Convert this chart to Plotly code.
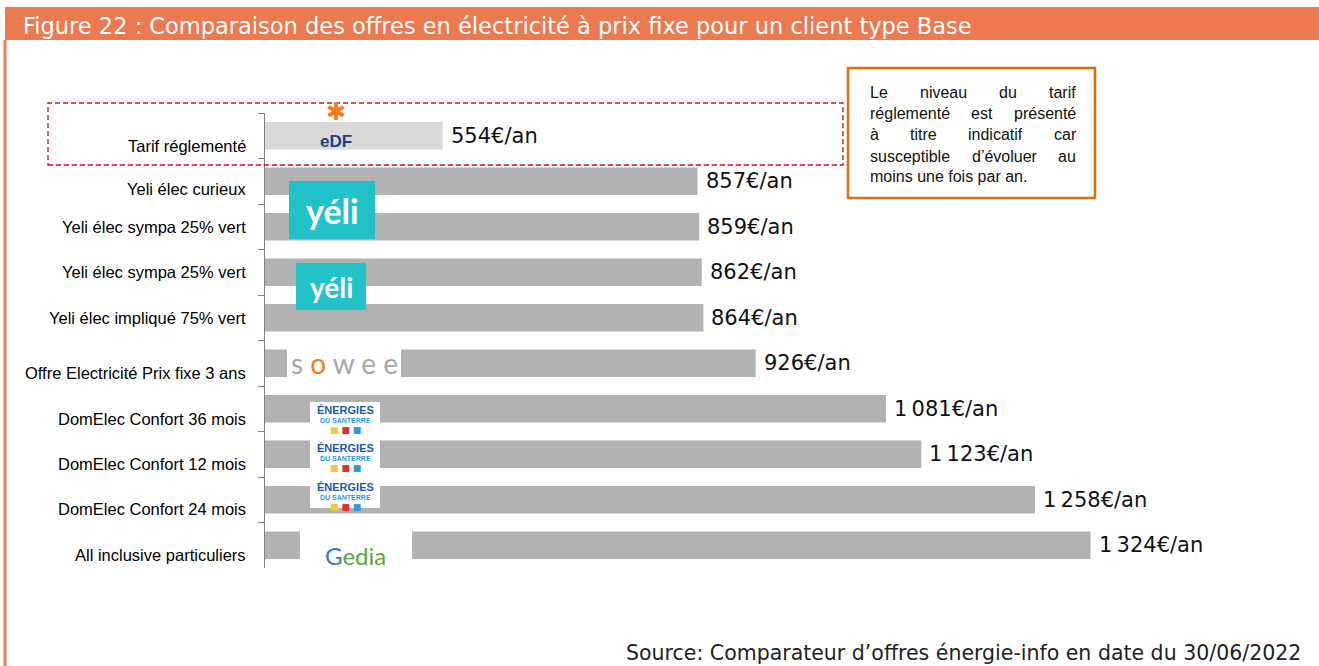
import plotly.graph_objects as go

W, H = 1319, 666

categories = [
    "Tarif réglementé",
    "Yeli élec curieux",
    "Yeli élec sympa 25% vert",
    "Yeli élec sympa 25% vert ",
    "Yeli élec impliqué 75% vert",
    "Offre Electricité Prix fixe 3 ans",
    "DomElec Confort 36 mois",
    "DomElec Confort 12 mois",
    "DomElec Confort 24 mois",
    "All inclusive particuliers",
]
values = [554, 857, 859, 862, 864, 926, 1081, 1123, 1258, 1324]
bar_colors = ["#d9d9d9"] + ["#b2b2b2"] * 9
# vertical nudge of each category label (pixels, downward) as in the source layout
label_nudge = [10, 8, 0, 0, 0, 10, 10, 10, 9, 10]

title_text = "Figure 22 : Comparaison des offres en électricité à prix fixe pour un client type Base"
source_text = "Source: Comparateur d\u2019offres énergie-info en date du 30/06/2022"
note_lines = [
    ["Le", "niveau", "du", "tarif"],
    ["réglementé", "est", "présenté"],
    ["à", "titre", "indicatif", "car"],
    ["susceptible", "d\u2019évoluer", "au"],
    ["moins une fois par an."],
]


def fmt(v):
    s = f"{v:,}".replace(",", "\u2009")
    return s + "€/an"


def px(x):
    return x / W


def py(y):
    return 1 - y / H


ORANGE = "#ec7950"

fig = go.Figure()
fig.add_trace(go.Bar(
    x=values, y=categories, orientation="h",
    marker=dict(color=bar_colors, line=dict(width=0)),
    width=0.6, hoverinfo="skip",
))

annotations = []
for c, v in zip(categories, values):
    annotations.append(dict(
        x=v, y=c, xref="x", yref="y", text=fmt(v), showarrow=False,
        xanchor="left", yanchor="middle", xshift=6,
        font=dict(family="DejaVu Sans", size=21, color="#111111"),
    ))
for c, dy in zip(categories, label_nudge):
    annotations.append(dict(
        x=px(248), y=c, xref="paper", yref="y", text=c.strip(), showarrow=False,
        xanchor="right", yanchor="middle", yshift=-dy,
        font=dict(family="Liberation Sans", size=16.5, color="#000000"),
    ))

shapes = []
shapes.append(dict(type="rect", xref="paper", yref="paper",
                   x0=px(5), x1=px(1319), y0=py(40), y1=py(7),
                   fillcolor=ORANGE, line=dict(width=0), layer="below"))
shapes.append(dict(type="line", xref="paper", yref="paper",
                   x0=px(5), x1=px(5), y0=py(40), y1=py(666),
                   line=dict(color=ORANGE, width=3)))
shapes.append(dict(type="rect", xref="paper", yref="paper",
                   x0=px(48), x1=px(843), y0=py(165), y1=py(103),
                   line=dict(color="#d40f0f", width=1.3, dash="5px,3px")))
shapes.append(dict(type="rect", xref="paper", yref="paper",
                   x0=px(848), x1=px(1095), y0=py(198), y1=py(68),
                   fillcolor="white", line=dict(color="#e46c0a", width=2.5)))


def box(x0, x1, y0, y1, color):
    shapes.append(dict(type="rect", xref="paper", yref="paper",
                       x0=px(x0), x1=px(x1), y0=py(y1), y1=py(y0),
                       fillcolor=color, line=dict(width=0), layer="above"))


box(289, 375, 181, 239, "#22c2c9")
box(296, 366, 263, 310, "#22c2c9")
box(287, 401, 349, 378, "white")
box(310, 380, 402, 432, "white")
box(310, 380, 440, 468, "white")
box(310, 380, 479, 508, "white")
box(300, 412, 531, 569, "white")


def txt(x, y, text, size, color, family="Liberation Sans", xanchor="center", bold=False):
    annotations.append(dict(
        x=px(x), y=py(y), xref="paper", yref="paper", text=(f"<b>{text}</b>" if bold else text),
        showarrow=False, xanchor=xanchor, yanchor="middle",
        font=dict(family=family, size=size, color=color),
    ))


# EDF
txt(336, 112, "✱", 24, "#f07d1a", family="DejaVu Sans")
txt(336, 141, "eDF", 17, "#1b3f91", bold=True)
# Yeli
txt(332, 210, "yéli", 34, "white", family="Lato", bold=True)
txt(331, 287, "yéli", 28, "white", family="Lato", bold=True)
# Sowee
txt(344, 363, "s <span style='color:#f07d1a'>o</span> w e e", 28, "#a6a6a6", family="Lato")
# Energies du Santerre
for yc in (410, 448, 487):
    txt(345, yc, "ÉNERGIES", 11, "#1f5aa6", family="Liberation Sans", bold=True)
    txt(345, yc + 10, "DU SANTERRE", 7, "#2c9ad8", family="Liberation Sans", bold=True)
    txt(345, yc + 20, "<span style='color:#f5c542'>■</span> <span style='color:#e0302f'>■</span> <span style='color:#2c9ad8'>■</span>", 9, "#999", family="DejaVu Sans")
# Gedia
txt(355, 555, "<span style='color:#2e7dbf'>G</span>edia", 24, "#5aa63a", family="Lato")

annotations.append(dict(x=px(21), y=py(26), xref="paper", yref="paper", text=title_text,
                        showarrow=False, xanchor="left", yanchor="middle",
                        font=dict(family="DejaVu Sans", size=22.5, color="white")))
annotations.append(dict(x=px(1303), y=py(653), xref="paper", yref="paper", text=source_text,
                        showarrow=False, xanchor="right", yanchor="middle",
                        font=dict(family="DejaVu Sans", size=20.5, color="#222222")))

# note text, justified using Arial-like metrics
AW = {"a": 556, "b": 556, "c": 500, "d": 556, "e": 556, "f": 278, "g": 556, "i": 222,
      "l": 222, "m": 833, "n": 556, "o": 556, "p": 556, "r": 333, "s": 500, "t": 278,
      "u": 556, "v": 500, "é": 556, "à": 556, "\u2019": 222, " ": 278, "L": 556, ".": 278}
NOTE_FS = 16


def wwidth(w):
    return sum(AW.get(ch, 556) for ch in w) * NOTE_FS / 1000


line_y = [92, 113, 134, 156, 177]
L, R = 868, 1074
for words, yy in zip(note_lines, line_y):
    if len(words) == 1:
        txt(L, yy, words[0], NOTE_FS, "#111111", xanchor="left")
        continue
    widths = [wwidth(w) for w in words]
    gap = (R - L - sum(widths)) / (len(words) - 1)
    xpos = L
    for w, wd in zip(words, widths):
        txt(xpos, yy, w, NOTE_FS, "#111111", xanchor="left")
        xpos += wd + gap

x0_val = 343
scale = 0.8415
fig.update_layout(
    width=W, height=H,
    margin=dict(l=0, r=0, t=0, b=0),
    paper_bgcolor="white", plot_bgcolor="white",
    showlegend=False,
    bargap=0.4,
    xaxis=dict(domain=[px(265), px(1300)], range=[x0_val, x0_val + (1300 - 265) / scale],
               visible=False, fixedrange=True),
    yaxis=dict(domain=[py(568), py(113)], autorange="reversed",
               categoryorder="array", categoryarray=categories,
               showline=True, linecolor="#7f7f7f", linewidth=1,
               ticks="outside", ticklen=6, tickcolor="#7f7f7f", tickson="boundaries",
               showticklabels=False, showgrid=False, fixedrange=True),
    shapes=shapes,
    annotations=annotations,
)

fig.write_html("out.html", config={"displayModeBar": False},
               post_script="document.body.style.margin='0';")
